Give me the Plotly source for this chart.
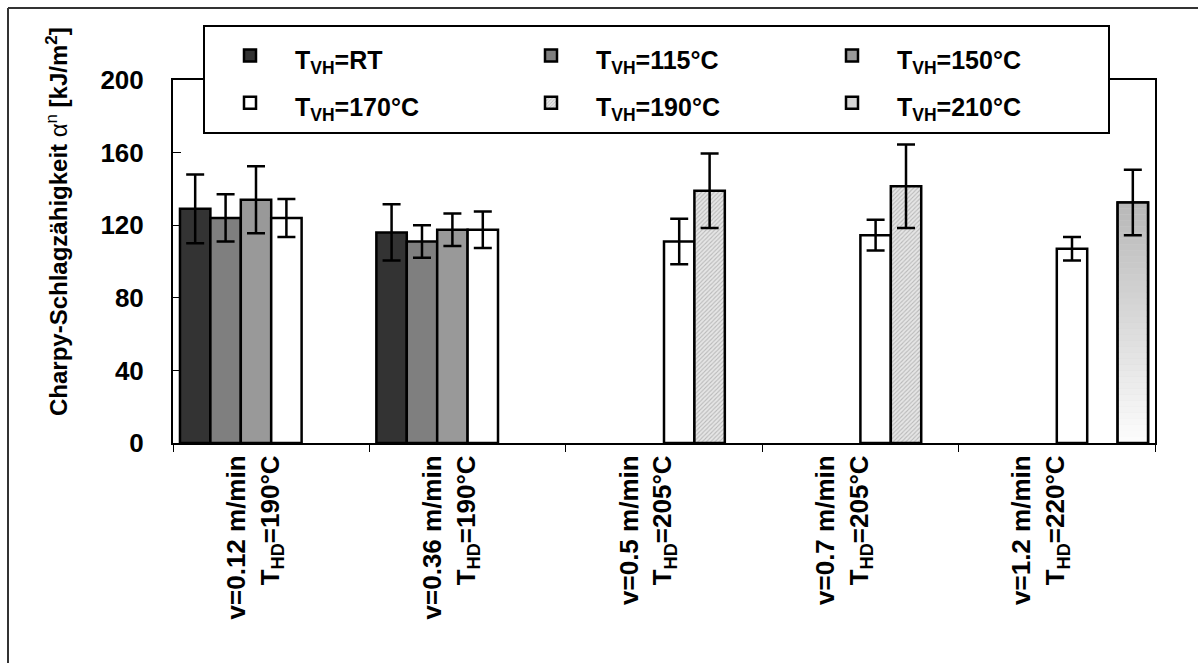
import plotly.graph_objects as go

categories = [
    "v=0.12 m/min<br>T<sub>HD</sub>=190°C",
    "v=0.36 m/min<br>T<sub>HD</sub>=190°C",
    "v=0.5 m/min<br>T<sub>HD</sub>=205°C",
    "v=0.7 m/min<br>T<sub>HD</sub>=205°C",
    "v=1.2 m/min<br>T<sub>HD</sub>=220°C",
]
series_names = ["T<sub>VH</sub>=RT", "T<sub>VH</sub>=115°C", "T<sub>VH</sub>=150°C",
                "T<sub>VH</sub>=170°C", "T<sub>VH</sub>=190°C", "T<sub>VH</sub>=210°C"]
val_RT = [129, 116, None, None, None]
err_RT = [19, 15.5, None, None, None]
val_115 = [124, 111, None, None, None]
err_115 = [13, 9, None, None, None]
val_150 = [134, 117.5, None, None, None]
err_150 = [18.5, 9, None, None, None]
val_170 = [124, 117.5, 111, 114.5, 107]
err_170 = [10.5, 10, 12.5, 8.5, 6.5]
val_190 = [None, None, 139, 141.5, None]
err_190 = [None, None, 20.5, 23, None]
val_210 = [None, None, None, None, 132.5]
err_210 = [None, None, None, None, 18]

FONT = "Liberation Sans, Arial, sans-serif"
LW = 2.5

fig = go.Figure()

def add_bar(name, vals, errs, color, group, pattern=None, show=True, err=True):
    marker = dict(color=color, line=dict(color="black", width=LW))
    if pattern:
        marker["pattern"] = pattern
    fig.add_trace(go.Bar(
        x=categories, y=vals, name=f"<span style='font-size:25px'>{name}</span>",
        offsetgroup=group, marker=marker, showlegend=show,
        error_y=dict(type="data", array=errs, color="black", thickness=2.5, width=9, visible=err),
    ))

add_bar(series_names[0], val_RT, err_RT, "#333333", "1")
add_bar(series_names[1], val_115, err_115, "#7f7f7f", "2")
add_bar(series_names[2], val_150, err_150, "#999999", "3")
add_bar(series_names[3], val_170, err_170, "#ffffff", "4")
add_bar(series_names[4], val_190, err_190, "#e6e6e6", "5",
        pattern=dict(shape="/", fgcolor="#8c8c8c", bgcolor="#e6e6e6", size=3, solidity=0.35))
# 210 °C: legend entry with flat light grey
add_bar(series_names[5], val_210, err_210, "#d6d6d6", "6", err=False)

# vertical gradient for the 210 °C bar, drawn as thin stacked slices of the same bar
N = 40
gx, gy, gbase, gcol = [], [], [], []
for c, v in zip(categories, val_210):
    if v is None:
        continue
    for i in range(N):
        t = i / (N - 1)
        g = int(round(252 - t * (252 - 184)))
        gx.append(c)
        gy.append(v / N * 1.02)
        gbase.append(v * i / N)
        gcol.append(f"rgb({g},{g},{g})")
fig.add_trace(go.Bar(x=gx, y=gy, base=gbase, offsetgroup="6", showlegend=False,
                     marker=dict(color=gcol, line=dict(width=0)), hoverinfo="skip"))
# outline + error bar of the 210 °C bar on top
fig.add_trace(go.Bar(x=categories, y=val_210, offsetgroup="6", showlegend=False,
                     marker=dict(color="rgba(0,0,0,0)", line=dict(color="black", width=LW)),
                     error_y=dict(type="data", array=err_210, color="black", thickness=2.5, width=9)))

L, R, T, B = 173, 43, 80, 220
W, H = 1198, 663
pw, ph = W - L - R, H - T - B

def px_x(x):
    return (x - L) / pw

def px_y(y):
    return (H - B - y) / ph

fig.update_layout(
    width=W, height=H,
    margin=dict(l=L, r=R, t=T, b=B, pad=0),
    paper_bgcolor="white", plot_bgcolor="white",
    barmode="group", bargap=0.071, bargroupgap=0,
    font=dict(family=FONT, color="black", size=20, weight="bold"),
    showlegend=True,
    legend=dict(
        orientation="h", x=px_x(203), y=px_y(25), xanchor="left", yanchor="top",
        bgcolor="white", bordercolor="black", borderwidth=2,
        font=dict(family=FONT, size=34, color="black", weight="bold"),
        entrywidth=206, entrywidthmode="pixels", itemwidth=80,
        traceorder="normal",
    ),
    xaxis=dict(
        type="category", showline=True, linecolor="black", linewidth=2, mirror=True,
        ticks="outside", tickson="boundaries", ticklen=7, tickcolor="black", tickwidth=1,
        tickangle=-90, tickfont=dict(family=FONT, size=26, weight="bold"),
        ticklabelshift=-18, showgrid=False, zeroline=False,
    ),
    yaxis=dict(
        range=[0, 200], dtick=40, showline=True, linecolor="black", linewidth=2, mirror=True,
        ticks="inside", ticklen=8, tickcolor="black", tickwidth=1,
        tickfont=dict(family=FONT, size=26, weight="bold"),
        ticklabelstandoff=22, showgrid=False, zeroline=False,
    ),
    annotations=[dict(
        text="Charpy-Schlagzähigkeit <span style='font-weight:normal'>α<sup>n</sup></span> [kJ/m<sup>2</sup>]",
        textangle=-90, xref="paper", yref="paper", x=px_x(57), y=px_y(222),
        xanchor="center", yanchor="middle", showarrow=False,
        font=dict(family=FONT, size=24, weight="bold", color="black"),
    )],
    shapes=[
        dict(type="line", xref="paper", yref="paper", x0=px_x(8), x1=px_x(W), y0=px_y(8), y1=px_y(8),
             line=dict(color="#333333", width=2)),
        dict(type="line", xref="paper", yref="paper", x0=px_x(8), x1=px_x(8), y0=px_y(8), y1=px_y(H),
             line=dict(color="#333333", width=2)),
    ],
)

fig.write_html("out.html")
